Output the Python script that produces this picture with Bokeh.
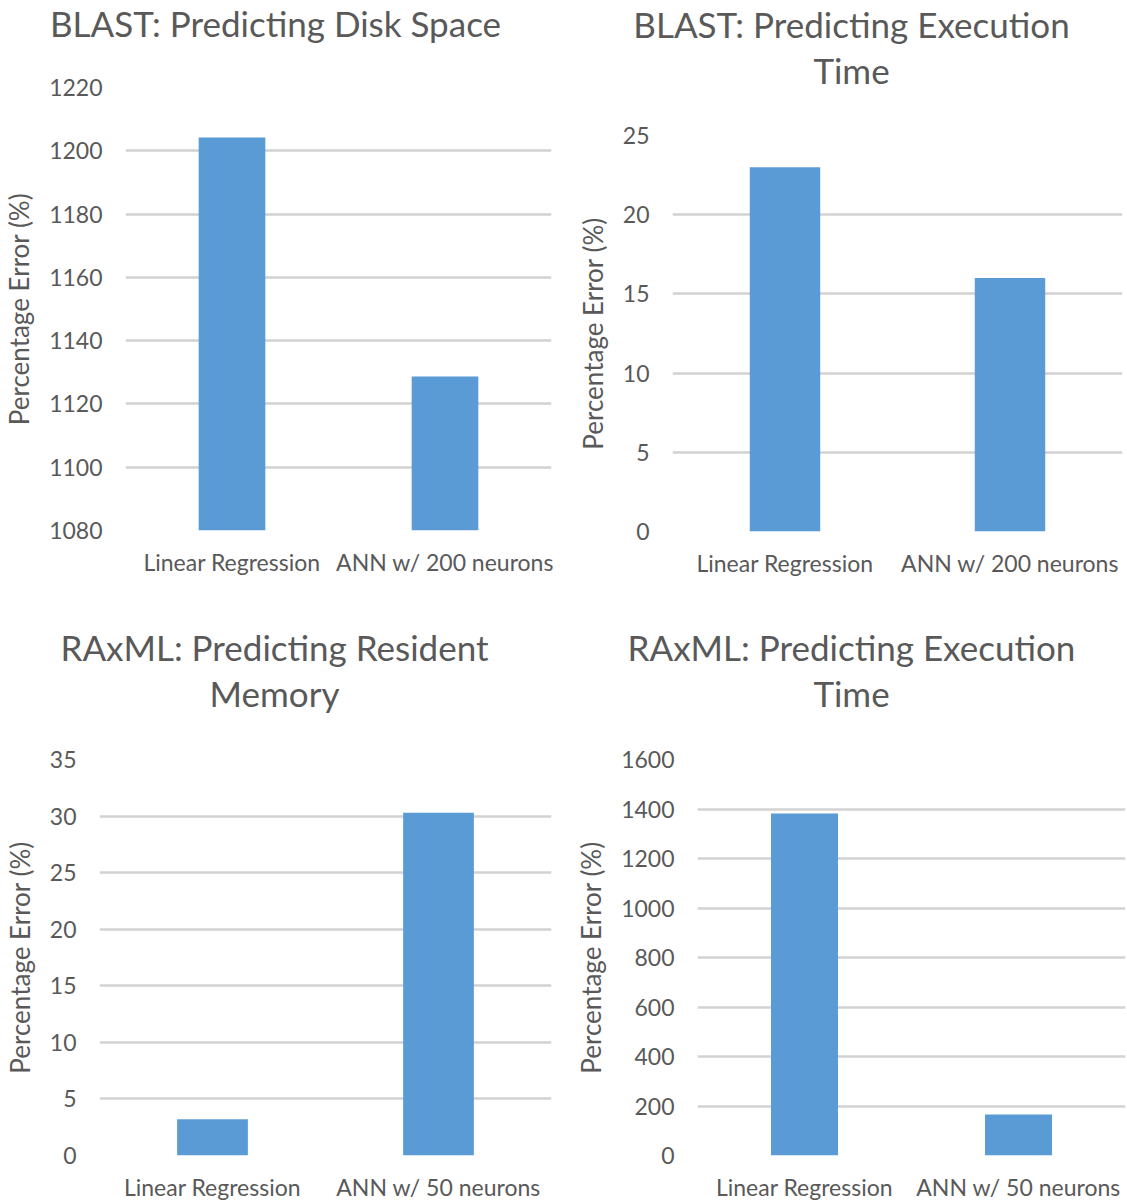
from bokeh.plotting import figure
from bokeh.layouts import row, column
from bokeh.models import FactorRange, Range1d, FixedTicker
from bokeh.embed import file_html
from bokeh.resources import INLINE

# ---- data ----
cats_200 = ["Linear Regression", "ANN w/ 200 neurons"]
cats_50 = ["Linear Regression", "ANN w/ 50 neurons"]

blast_disk = [1204.2, 1128.7]
blast_time = [23.0, 16.0]
raxml_mem = [3.2, 30.3]
raxml_time = [1382, 166]

ticks_disk = [1080, 1100, 1120, 1140, 1160, 1180, 1200, 1220]
ticks_btime = [0, 5, 10, 15, 20, 25]
ticks_mem = [0, 5, 10, 15, 20, 25, 30, 35]
ticks_rtime = [0, 200, 400, 600, 800, 1000, 1200, 1400, 1600]

titles = [
    ["BLAST: Predicting Disk Space"],
    ["BLAST: Predicting Execution", "Time"],
    ["RAxML: Predicting Resident", "Memory"],
    ["RAxML: Predicting Execution", "Time"],
]
y_label = "Percentage Error (%)"

FONT = "Lato"
TXT = "#595959"
BAR = "#5b9bd5"
GRID = "#d2d2d2"
SHIFT = 17  # correction of the rendered baseline in the title strips


def title_fig(lines, w, h, cx, baselines):
    t = figure(width=w, height=h, x_range=Range1d(0, w), y_range=Range1d(0, h),
               output_backend="svg", toolbar_location=None,
               x_axis_location=None, y_axis_location=None, min_border=0)
    t.outline_line_color = None
    t.grid.visible = False
    t.text(x=[cx] * len(lines), y=[h - b + SHIFT for b in baselines], text=lines,
           text_font={"value": FONT}, text_font_size="35px", text_color=TXT,
           text_align="center", text_baseline="alphabetic")
    return t


def make(cats, vals, yr, ticks, w, h, bl, br, bt, bb):
    p = figure(x_range=FactorRange(*cats), y_range=Range1d(*yr),
               width=w, height=h, output_backend="svg", toolbar_location=None,
               min_border_left=bl, min_border_right=br, min_border_top=bt,
               min_border_bottom=bb)
    p.vbar(x=cats, top=vals, bottom=yr[0], width=0.313, fill_color=BAR, line_color=None)
    p.outline_line_color = None
    p.xgrid.grid_line_color = None
    p.ygrid.grid_line_color = GRID
    p.ygrid.grid_line_width = 2.5
    p.yaxis.ticker = FixedTicker(ticks=ticks)
    for ax in (p.xaxis[0], p.yaxis[0]):
        ax.axis_line_color = None
        ax.major_tick_line_color = None
        ax.minor_tick_line_color = None
        ax.major_tick_out = 0
        ax.major_tick_in = 0
        ax.major_label_text_font = FONT
        ax.major_label_text_color = TXT
        ax.major_label_text_font_size = "23px"
    p.xaxis.major_label_standoff = 17
    p.yaxis.major_label_standoff = 23
    p.yaxis.axis_label = y_label
    p.yaxis.axis_label_text_font = FONT
    p.yaxis.axis_label_text_font_style = "normal"
    p.yaxis.axis_label_text_color = TXT
    p.yaxis.axis_label_text_font_size = "26px"
    p.yaxis.axis_label_standoff = 11
    return p


# top-left
t1 = title_fig(titles[0], 563, 58, 275, [39])
p1 = make(cats_200, blast_disk, (1080, 1220), ticks_disk, 563, 543, 122, 12, 29, 71)
# top-right
t2 = title_fig(titles[1], 564, 105, 851 - 563, [40, 86])
p2 = make(cats_200, blast_time, (0, 25), ticks_btime, 564, 496, 109, 5, 30, 70)
# bottom-left
t3 = title_fig(titles[2], 563, 125, 274, [62, 108])
p3 = make(cats_50, raxml_mem, (0, 35), ticks_mem, 563, 477, 97, 12, 33, 48)
# bottom-right
t4 = title_fig(titles[3], 564, 125, 851 - 563, [62, 108])
p4 = make(cats_50, raxml_time, (0, 1600), ticks_rtime, 564, 477, 134, 2, 33, 48)


def panel(t, p):
    # wrap each figure on its own so that the frames are not aligned
    return column(column(t), column(p))


layout = column(row(panel(t1, p1), panel(t2, p2)),
                row(panel(t3, p3), panel(t4, p4)))

open("out.html", "w").write(file_html(layout, INLINE))
